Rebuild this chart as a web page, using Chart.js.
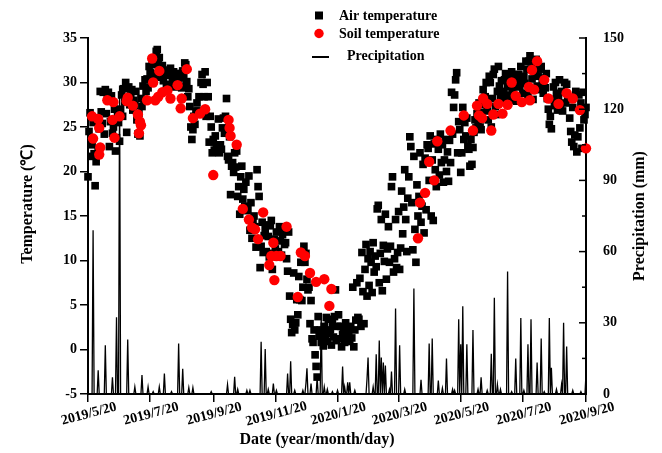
<!DOCTYPE html>
<html>
<head>
<meta charset="utf-8">
<script src="https://cdn.jsdelivr.net/npm/chart.js@4.4.1/dist/chart.umd.min.js"></script>
<style>
  html, body { margin: 0; padding: 0; background: #fff; }
  #wrap { width: 662px; height: 453px; position: relative; }
</style>
</head>
<body>
<div id="wrap"><canvas id="chart"></canvas></div>
<script>
"use strict";
// x values are days counted from 2019/5/20
const xTickDays = [0, 61, 123, 184, 245, 305, 366, 427, 489];
const xTickLabels = ['2019/5/20', '2019/7/20', '2019/9/20', '2019/11/20', '2020/1/20',
    '2020/3/20', '2020/5/20', '2020/7/20', '2020/9/20'];

// daily air temperature (°C), one value per day from 2019/5/20
const airTemp = [
    19.4, 24.5, 26.6, 21.7, 23.0, 25.5, 22.0, 18.4, 21.1, 26.0,
    22.5, 24.8, 29.0, 26.7, 25.4, 28.9, 24.2, 29.2, 26.5, 28.4,
    28.9, 22.8, 25.6, 28.5, 24.3, 25.0, 27.0, 22.3, 23.8, 26.2,
    25.5, 23.4, 27.0, 28.6, 26.2, 29.3, 27.8, 30.0, 24.4,
    28.2, 29.5, 27.5, 28.8, 29.2, 26.9, 28.0, 27.4, 29.0, 25.8,
    24.2, 26.5, 24.0, 28.2, 27.3, 29.6, 28.1, 30.3, 29.0, 30.4,
    29.4, 31.8, 31.1, 30.2, 32.6, 31.0, 30.5, 32.0, 33.5, 33.7,
    32.2, 32.8, 31.5, 30.6, 31.9, 30.2, 31.2, 30.8, 29.6, 31.4,
    30.9, 29.8, 31.6, 30.8, 30.1, 31.2, 29.5, 30.6, 31.0,
    30.2, 31.0, 29.6, 30.5, 29.4, 31.3, 30.8, 32.2, 32.0, 30.1,
    28.4, 29.3, 27.3, 25.0, 23.6, 24.7, 26.2, 25.3, 26.8, 27.7,
    26.8, 28.4, 26.7, 30.0, 30.9, 29.8, 28.4, 31.2, 26.2, 30.0,
    28.4, 23.3, 26.2, 25.0, 22.1, 23.6, 22.4, 24.0, 22.8, 22.7,
    25.9, 22.1, 23.0, 22.5, 24.9, 26.0, 24.3, 26.2, 28.2, 21.7,
    21.3, 23.9, 17.4, 20.6, 21.0, 19.9, 22.1, 20.5, 22.3,
    17.2, 18.3, 15.2, 19.4, 20.6, 16.9, 18.0, 16.1, 18.8, 15.6,
    15.7, 19.5, 13.4, 16.5, 12.5, 14.6, 15.0, 13.8, 11.5, 20.2,
    18.3, 17.2, 9.2, 11.6, 14.3, 10.9, 12.8, 13.5, 11.0, 14.0,
    12.7, 10.4, 13.9, 14.5, 9.0, 10.8, 12.4, 11.3, 13.2, 10.4,
    11.0, 13.8, 12.2, 10.6, 12.9, 13.5, 11.8, 12.0, 10.2, 8.8,
    13.2, 6.0, 3.4, 1.9, 2.8, 8.6, 2.2, 3.0, 5.6,
    3.9, 8.2, 5.6, 9.8, 5.5, 7.0, 11.6, 9.8, 10.8, 7.9,
    6.7, 7.0, 2.9, 5.5, 1.2, 0.8, 2.2, -0.6, -1.9, -3.1,
    3.7, 1.5, 2.2, 0.8, 1.9, 0.4, 2.6, 1.1, 3.6, 0.9,
    3.4, 1.8, 2.2, 0.5, 2.9, 1.4, 3.7, 6.7, 1.0, 2.6,
    3.9, 1.2, 2.6, 0.3, 1.7, 2.4, 0.8, 3.0, 1.5, 2.1,
    2.0, 0.9, 2.6, 1.3, 7.0, 0.3, 2.2, 3.3, 7.5,
    3.6, 3.4, 8.0, 2.6, 10.9, 6.5, 2.9, 9.0, 11.8, 6.0,
    10.2, 7.2, 11.0, 9.8, 6.4, 12.0, 8.7, 10.5, 9.3, 15.8,
    16.2, 7.5, 10.8, 14.6, 6.6, 11.7, 9.9, 15.2, 7.9, 11.3,
    13.8, 9.8, 11.6, 18.3, 19.4, 8.7, 10.2, 14.6, 9.2, 10.9,
    15.5, 9.0, 11.4, 17.8, 13.0, 16.0, 20.2, 14.6, 11.0, 17.0,
    19.4, 23.9, 22.8, 16.5, 11.2, 21.7, 13.5, 9.8, 18.5,
    15.0, 17.2, 22.1, 14.3, 16.1, 20.8, 13.1, 21.5, 15.7, 23.0,
    22.6, 19.0, 24.0, 15.0, 21.3, 14.5, 23.1, 20.2, 18.3, 23.6,
    22.5, 19.6, 24.2, 21.0, 23.0, 18.8, 21.3, 23.6, 20.0, 22.2,
    18.9, 23.5, 21.0, 28.9, 24.2, 27.2, 28.6, 30.3, 31.1, 22.1,
    25.6, 24.7, 19.9, 22.1, 27.2, 23.6, 25.5, 24.0, 26.0, 22.8,
    22.5, 20.6, 23.6, 20.8, 22.7, 24.4, 25.8, 24.9, 26.5,
    25.5, 27.7, 25.0, 24.7, 26.6, 29.2, 27.5, 28.4, 30.0, 26.8,
    25.8, 30.7, 30.0, 25.0, 28.2, 30.9, 31.5, 27.3, 26.4, 29.0,
    31.8, 29.6, 28.4, 30.2, 27.9, 29.0, 30.3, 31.0, 28.4, 29.5,
    29.8, 28.6, 30.7, 31.2, 29.3, 28.0, 30.4, 29.8, 27.9, 30.9,
    30.9, 29.5, 31.8, 30.2, 28.8, 30.7, 29.9, 32.4, 31.5, 28.6,
    32.4, 33.0, 31.5, 30.4, 28.1, 31.9, 30.8, 32.6, 29.6,
    30.7, 31.5, 29.2, 31.8, 30.0, 28.8, 30.5, 29.4, 31.0, 28.2,
    27.0, 25.3, 26.2, 24.8, 28.1, 29.5, 27.4, 30.0, 28.8, 26.9,
    28.4, 30.3, 27.5, 29.0, 26.8, 28.9, 30.0, 27.7, 29.8, 28.3,
    28.1, 26.0, 24.5, 23.3, 27.2, 22.8, 24.1, 29.0, 22.2, 23.9,
    28.6, 24.9, 27.7, 22.6, 28.9, 25.8, 26.4, 27.2
];

// soil temperature (°C) sampling days and values
const soilDay = [
    4, 5, 10, 11, 11, 12, 19, 24, 25, 26,
    31, 38, 39, 44, 49, 50, 51, 52, 58, 63,
    64, 66, 69, 70, 73, 78, 81, 88, 91, 92,
    97, 103, 110, 115, 123, 138, 139, 140, 146, 152,
    158, 161, 164, 167, 172, 178, 180, 182, 183, 185,
    189, 195, 206, 209, 213, 218, 224, 232, 237, 239,
    324, 326, 331, 335, 340, 343, 356, 369, 378, 382,
    384, 387, 388, 392, 396, 398, 403, 407, 412, 416,
    420, 426, 433, 434, 436, 438, 441, 448, 452, 462,
    470, 476, 483, 489
];
const soilTemp = [
    26.2, 23.7, 25.9, 21.9, 24.9, 22.7, 28.0, 25.8, 27.8, 23.8,
    26.2, 27.9, 28.3, 27.4, 26.4, 24.3, 25.6, 25.2, 28.0, 32.7,
    30.0, 28.0, 28.4, 31.3, 28.9, 29.1, 28.2, 29.7, 27.1, 28.2,
    31.5, 26.0, 26.5, 27.0, 19.6, 25.8, 24.9, 24.0, 23.0, 15.8,
    14.6, 13.7, 13.5, 12.4, 15.4, 9.5, 10.5, 12.0, 7.8, 10.5,
    10.5, 13.8, 5.9, 10.9, 10.5, 8.6, 7.6, 7.9, 4.9, 6.8,
    12.5, 16.5, 17.6, 21.1, 19.0, 23.4, 24.6, 26.3, 24.6, 27.4,
    26.3, 26.0, 28.2, 27.6, 24.6, 26.4, 27.6, 26.5, 27.5, 30.0,
    28.5, 27.8, 29.5, 28.0, 31.4, 29.2, 32.4, 30.3, 28.2, 27.6,
    28.8, 28.2, 26.9, 22.6
];

// rainy days and daily precipitation (mm); other days are dry
const rainDay = [
    5, 10, 17, 24, 28, 31, 39, 46, 53, 59, 64, 70, 75, 82, 89, 93, 99, 103,
    121, 137, 144, 147, 156, 159, 170, 174, 177, 182, 185, 196, 199, 203,
    211, 214, 215, 219, 225, 229, 232, 235, 240, 245, 250, 252, 255, 257, 262,
    274, 275, 280, 283, 286, 288, 290, 292, 296, 298, 302, 306, 311, 320, 327,
    335, 338, 344, 348, 352, 358, 360, 364, 366, 368, 372, 378, 383, 386,
    392, 396, 399, 402, 405, 412, 416, 420, 425, 428, 432, 435, 441, 445,
    448, 453, 455, 460, 465, 467, 470, 476, 484, 489
];
const rainMm = [
    69, 10, 20.5, 7, 32.3, 130, 23, 3, 8, 3, 1, 3, 8.6, 1, 21.3, 10.6, 2.7, 2.7,
    1, 4, 7.3, 2, 1.5, 1.5, 22, 19, 2, 4.4, 1.5, 8.6, 13.8, 1.5,
    1.5, 4.4, 10.8, 4.4, 7, 32.7, 3, 2, 1, 1.5, 11.6, 3, 4.9, 4.9, 1.5,
    6.5, 15.4, 3, 16.7, 22.5, 15.4, 13.3, 12, 2, 9.5, 36, 20.5, 2, 44.4, 6,
    21.3, 23.4, 5.7, 2.5, 15, 2, 1.5, 31.5, 21, 37, 21, 27, 2, 7,
    1.5, 17, 40.5, 4, 2, 51.6, 1, 15, 32, 1.5, 21, 31.5, 13.3, 23.4,
    1, 32, 11, 2, 4, 30, 20, 1.5, 1, 8.6
];

const FONT = "'Liberation Serif', 'Times New Roman', serif";
Chart.defaults.font.family = FONT;
Chart.defaults.font.weight = 'bold';
Chart.defaults.color = '#000';

let airPoints = airTemp.map((t, i) => ({ x: i, y: t }));
let soilPoints = soilDay.map((d, i) => ({ x: d, y: soilTemp[i] }));
let rainDaily = new Array(xTickDays[xTickDays.length - 1] + 1).fill(0);
rainDay.forEach((d, i) => { rainDaily[d] = rainMm[i]; });
let rainPoints = rainDaily.map((p, i) => ({ x: i, y: p }));

// axis titles, slanted date labels, inward right ticks and the legend
const decorPlugin = {
    id: 'decor',
    afterDraw(chart) {
        let ctx = chart.ctx;
        let xs = chart.scales.x;
        let y1 = chart.scales.y1;
        ctx.save();
        ctx.fillStyle = '#000';
        ctx.strokeStyle = '#000';

        ctx.font = 'bold 14px ' + FONT;
        ctx.textAlign = 'center';
        ctx.textBaseline = 'middle';
        xTickDays.forEach((d, i) => {
            ctx.save();
            ctx.translate(xs.getPixelForValue(d) + 1, 414);
            ctx.rotate(-15 * Math.PI / 180);
            ctx.fillText(xTickLabels[i], 0, 0);
            ctx.restore();
        });

        ctx.lineWidth = 1.5;
        for (let v = 0; v <= 150; v += 15) {
            let py = y1.getPixelForValue(v);
            let len = v % 30 === 0 ? 7 : 4;
            ctx.beginPath();
            ctx.moveTo(y1.left, py);
            ctx.lineTo(y1.left - len, py);
            ctx.stroke();
        }

        ctx.font = 'bold 16px ' + FONT;
        ctx.fillText('Date (year/month/day)', 317, 440);
        ctx.save();
        ctx.translate(28, 204);
        ctx.rotate(-Math.PI / 2);
        ctx.fillText('Temperature (℃)', 0, 0);
        ctx.restore();
        ctx.save();
        ctx.translate(640, 216);
        ctx.rotate(-Math.PI / 2);
        ctx.fillText('Precipitation (mm)', 0, 0);
        ctx.restore();

        let ds = chart.data.datasets;
        ctx.font = 'bold 14px ' + FONT;
        ctx.textAlign = 'left';
        ctx.fillStyle = ds[0].backgroundColor;
        ctx.fillRect(315, 11.5, 8, 8);
        ctx.fillStyle = ds[1].backgroundColor;
        ctx.beginPath();
        ctx.arc(319, 33.5, 4.7, 0, Math.PI * 2);
        ctx.fill();
        ctx.lineWidth = 2;
        ctx.beginPath();
        ctx.moveTo(312, 57);
        ctx.lineTo(329, 57);
        ctx.stroke();
        ctx.fillStyle = '#000';
        ctx.fillText(ds[0].label, 339, 16);
        ctx.fillText(ds[1].label, 339, 34.5);
        ctx.fillText(ds[2].label, 347, 56.5);
        ctx.restore();
    }
};

new Chart(document.getElementById('chart').getContext('2d'), {
    type: 'line',
    data: {
        datasets: [
            {
                label: 'Air temperature',
                data: airPoints,
                showLine: false,
                pointStyle: 'rect',
                pointRadius: 5.4,
                backgroundColor: '#000000',
                borderWidth: 0,
                clip: false,
                yAxisID: 'y',
                order: 1
            },
            {
                label: 'Soil temperature',
                data: soilPoints,
                showLine: false,
                pointStyle: 'circle',
                pointRadius: 5.2,
                backgroundColor: '#ff0000',
                borderWidth: 0,
                clip: false,
                yAxisID: 'y',
                order: 0
            },
            {
                label: 'Precipitation',
                data: rainPoints,
                borderColor: '#000000',
                borderWidth: 1.3,
                pointRadius: 0,
                tension: 0,
                fill: false,
                yAxisID: 'y1',
                order: 2
            }
        ]
    },
    options: {
        responsive: true,
        maintainAspectRatio: false,
        animation: false,
        events: [],
        layout: { padding: { top: 38, left: 0, right: 0, bottom: 0 } },
        plugins: { legend: { display: false }, tooltip: { enabled: false } },
        scales: {
            x: {
                type: 'linear',
                min: 0,
                max: 489,
                afterBuildTicks: s => { s.ticks = xTickDays.map(v => ({ value: v })); },
                afterFit: s => { s.height = 59; },
                ticks: { display: false, autoSkip: false },
                grid: { drawOnChartArea: false, drawTicks: true, tickLength: 8, color: '#000', lineWidth: 1.5 },
                border: { display: true, color: '#000', width: 2 }
            },
            y: {
                position: 'left',
                min: -5,
                max: 35,
                afterFit: s => { s.width = 88; },
                ticks: { stepSize: 5, padding: 3, font: { size: 14, weight: 'bold' } },
                grid: { drawOnChartArea: false, drawTicks: true, tickLength: 8, color: '#000', lineWidth: 1.5 },
                border: { display: true, color: '#000', width: 2 }
            },
            y1: {
                position: 'right',
                min: 0,
                max: 150,
                afterFit: s => { s.width = 76; },
                ticks: { stepSize: 30, padding: 9, font: { size: 14, weight: 'bold' } },
                grid: { display: false },
                border: { display: true, color: '#000', width: 2 }
            }
        }
    },
    plugins: [decorPlugin]
});
</script>
</body>
</html>
